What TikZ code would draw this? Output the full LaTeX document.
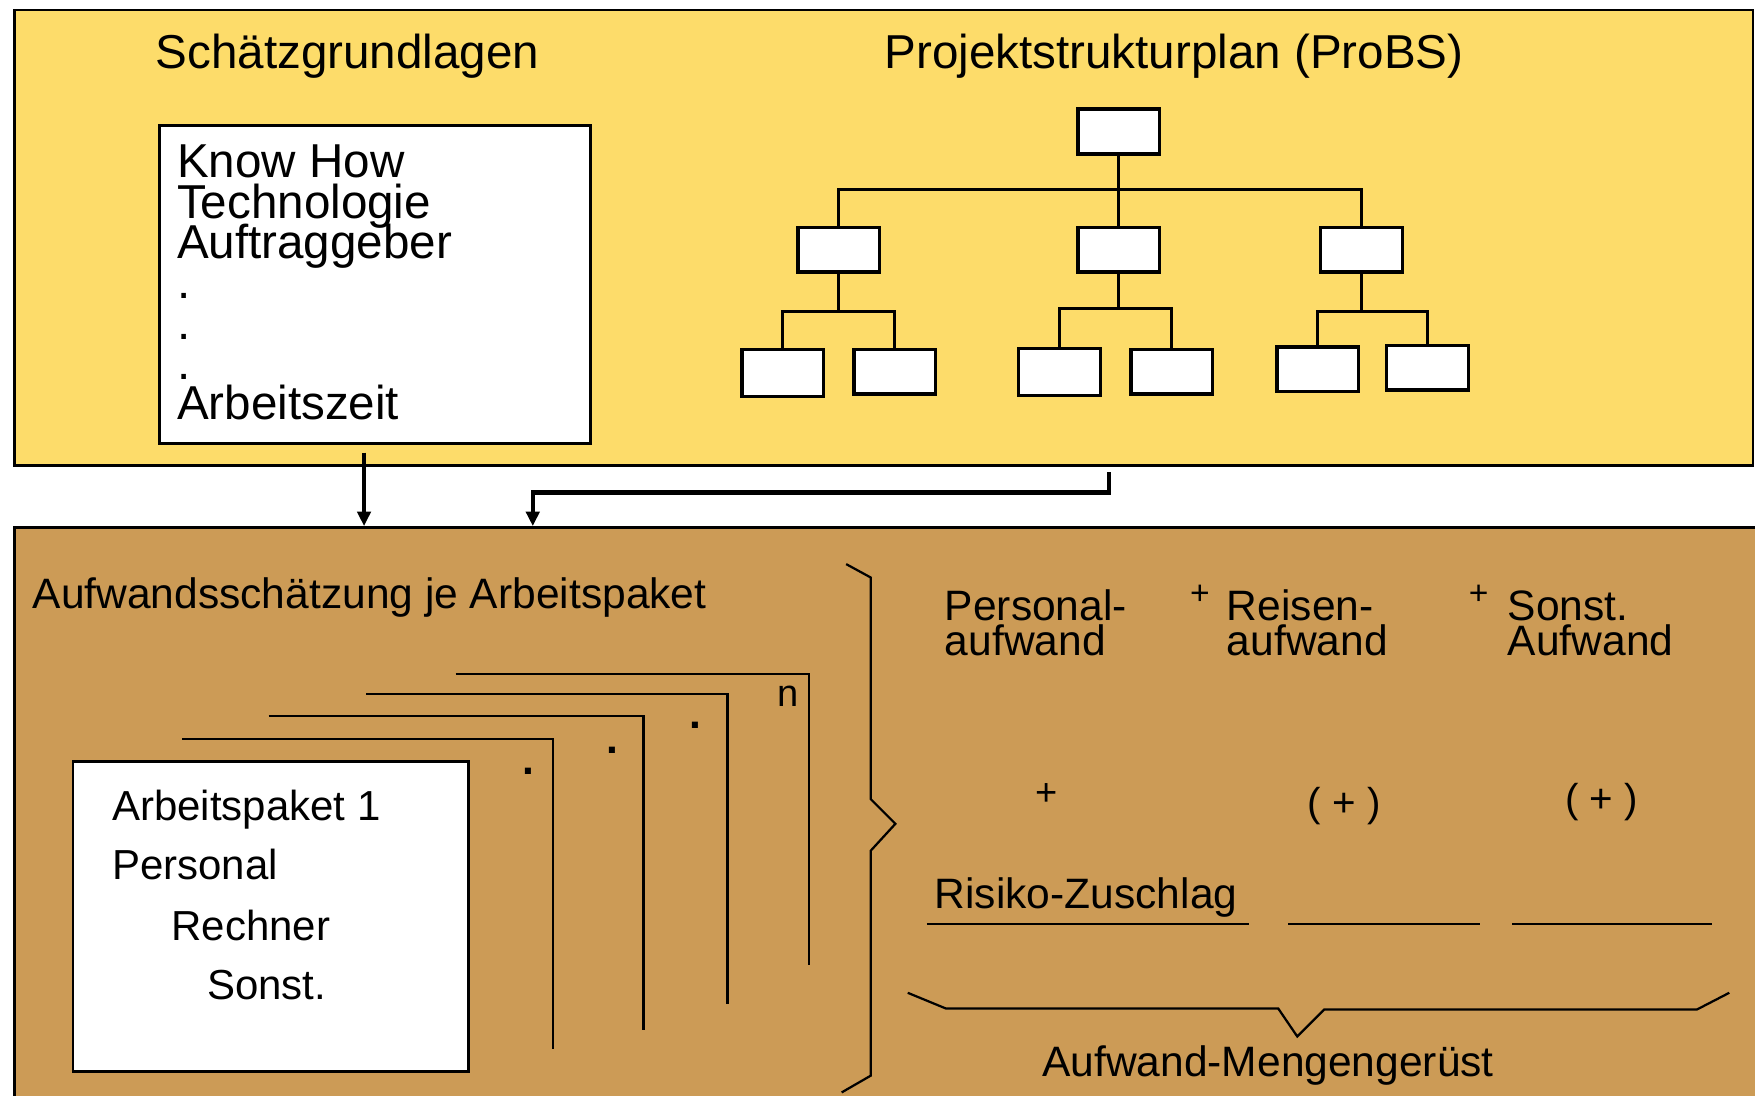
\documentclass[tikz,border=0pt]{standalone}
\usepackage{fontspec}
\setmainfont{Liberation Sans}
\usetikzlibrary{arrows.meta}
\definecolor{basisyellow}{RGB}{253,220,106}
\definecolor{estbrown}{RGB}{204,155,86}
% keep an even line pitch even when lines are set tighter than the font size
\newcommand\tightlines{\lineskiplimit=-100pt\relax}
\begin{document}
\begin{tikzpicture}[x=1pt,y=-1pt,
  txt/.style={inner sep=0pt, anchor=base west, font=\fontsize{38}{38}\selectfont},
  % multi-line nodes: the base anchor sits on the last line
  pair/.style={inner sep=0pt, anchor=base west, align=left, font=\fontsize{38}{32}\selectfont\tightlines},
  bigtxt/.style={inner sep=0pt, anchor=base west, font=\fontsize{42.5}{42.5}\selectfont},
  listtxt/.style={inner sep=0pt, anchor=base west, align=left, font=\fontsize{42.5}{36}\selectfont\tightlines},
  cardtxt/.style={inner sep=0pt, anchor=base west, font=\fontsize{37.5}{37.5}\selectfont},
  sym/.style={inner sep=0pt, anchor=center, font=\fontsize{36}{36}\selectfont},
  smallsym/.style={inner sep=0pt, anchor=center, font=\fontsize{30}{30}\selectfont},
  dotmark/.style={inner sep=0pt, anchor=center, font=\fontsize{38}{38}\selectfont\bfseries},
  panel/.style={draw=black, line width=2.2pt, anchor=north west, inner sep=0pt},
  card/.style={draw=black, fill=white, line width=2.5pt, anchor=north west, inner sep=0pt},
  wbs/.style={draw=black, fill=white, line width=3pt, minimum width=73pt, minimum height=40pt, inner sep=0pt},
  link/.style={line width=2.6pt},
  flow/.style={line width=3pt, -{Triangle[length=13pt,width=12pt]}},
  sheet/.style={line width=2pt},
  brace/.style={line width=2pt, line join=miter},
  rule/.style={line width=2.5pt}
]
\useasboundingbox (0,0) rectangle (1568,979);
\fill[white] (0,0) rectangle (1568,979);

% --- upper panel: estimation basis and project structure plan
\node[panel, fill=basisyellow, minimum width=1553pt, minimum height=407pt] (basis) at (12,8) {};
\node[bigtxt] (basistitle) at (139,61) {Schätzgrundlagen};
\node[bigtxt] (wbstitle) at (790,61) {Projektstrukturplan (ProBS)};

\node[card, minimum width=385pt, minimum height=284pt] (sg) at (141,111) {};
\node[listtxt] (sglist) at (158,375) {Know How\\Technologie\\Auftraggeber\\.\\.\\.\\Arbeitszeit};

% structure tree
\node[wbs] (root) at (999.5,117.5) {};
\node[wbs] (m1) at (749.5,223) {};
\node[wbs] (m2) at (999.5,223) {};
\node[wbs] (m3) at (1216.5,223) {};
\node[wbs, minimum height=42pt] (l1) at (699.5,333) {};
\node[wbs] (l2) at (799.5,332) {};
\node[wbs, minimum height=42pt] (l3) at (946.5,332.5) {};
\node[wbs] (l4) at (1047,332) {};
\node[wbs] (l5) at (1177.5,330) {};
\node[wbs] (l6) at (1275.5,328.5) {};

\draw[link] (root.south) -- ++(0,30) -| (m1.north);
\draw[link] (root.south) -- ++(0,30) -| (m3.north);
\draw[link] (root.south) -- (m2.north);
\draw[link] (m1.south) -- ++(0,34) -| (l1.north);
\draw[link] (m1.south) -- ++(0,34) -| (l2.north);
\draw[link] (m2.south) -- ++(0,31) -| (l3.north);
\draw[link] (m2.south) -- ++(0,31) -| (l4.north);
\draw[link] (m3.south) -- ++(0,34) -| (l5.north);
\draw[link] (m3.south) -- ++(0,34) -| (l6.north);

% --- lower panel: effort estimation
\node[panel, fill=estbrown, minimum width=1570pt, minimum height=530pt] (est) at (12,470) {};

\draw[flow, shorten <=7pt] ([xshift=-9.5pt]sg.south) -- ([xshift=-9.5pt]sg.south |- est.north);
\coordinate (wbsout) at (991,422);
\path (est.north west) ++(464,0) coordinate (estin);
\draw[flow, line width=4pt] (wbsout) |- (476,440) -- (estin);

\node[txt] (esttitle) at (29,544) {Aufwandsschätzung je Arbeitspaket};

% stacked work package sheets
\draw[sheet] (407,602) -| (723,862);
\draw[sheet] (327,620) -| (650,897);
\draw[sheet] (240,640) -| (575,920);
\draw[sheet] (163,660) -| (494,937);
\node[dotmark] (dot1) at (472,689) {.};
\node[dotmark] (dot2) at (547,670) {.};
\node[dotmark] (dot3) at (621,648) {.};
\node[sym, font=\fontsize{34}{34}\selectfont] (nmark) at (704,622) {n};

\node[card, minimum width=353pt, minimum height=277pt] (ap) at (64,679) {};
\node[cardtxt] (ap1) at (100,733) {Arbeitspaket 1};
\node[cardtxt] (ap2) at (100,786) {Personal};
\node[cardtxt] (ap3) at (153,840) {Rechner};
\node[cardtxt] (ap4) at (185,893) {Sonst.};

% collecting brace
\draw[brace] (756,504) -- (778,516) -- (778,714) -- (800,736) -- (778,760) -- (778,961) -- (752,976);

% cost categories
\node[pair] (pa) at (844,586) {Personal-\\aufwand};
\node[pair] (ra) at (1096,586) {Reisen-\\aufwand};
\node[pair] (sa) at (1347,586) {Sonst.\\Aufwand};
\node[smallsym] (plus1) at (1072,531) {+};
\node[smallsym] (plus2) at (1321,531) {+};

\node[sym, font=\fontsize{34}{34}\selectfont] (plus3) at (935,710) {+};
\node[sym] (plus4) at (1201,720) {( + )};
\node[sym] (plus5) at (1431,717) {( + )};

\node[txt] (risk) at (835,812) {Risiko-Zuschlag};
\draw[rule] (828,825.5) -- (1116,825.5);
\draw[rule] (1151,825.5) -- (1322,825.5);
\draw[rule] (1351,825.5) -- (1530,825.5);

\draw[brace] (811,887) -- (845,901) -- (1142,901) -- (1159,926) -- (1183,902) -- (1516,902) -- (1545,887);
\node[txt] (total) at (931,962) {Aufwand-Mengengerüst};
\end{tikzpicture}
\end{document}
